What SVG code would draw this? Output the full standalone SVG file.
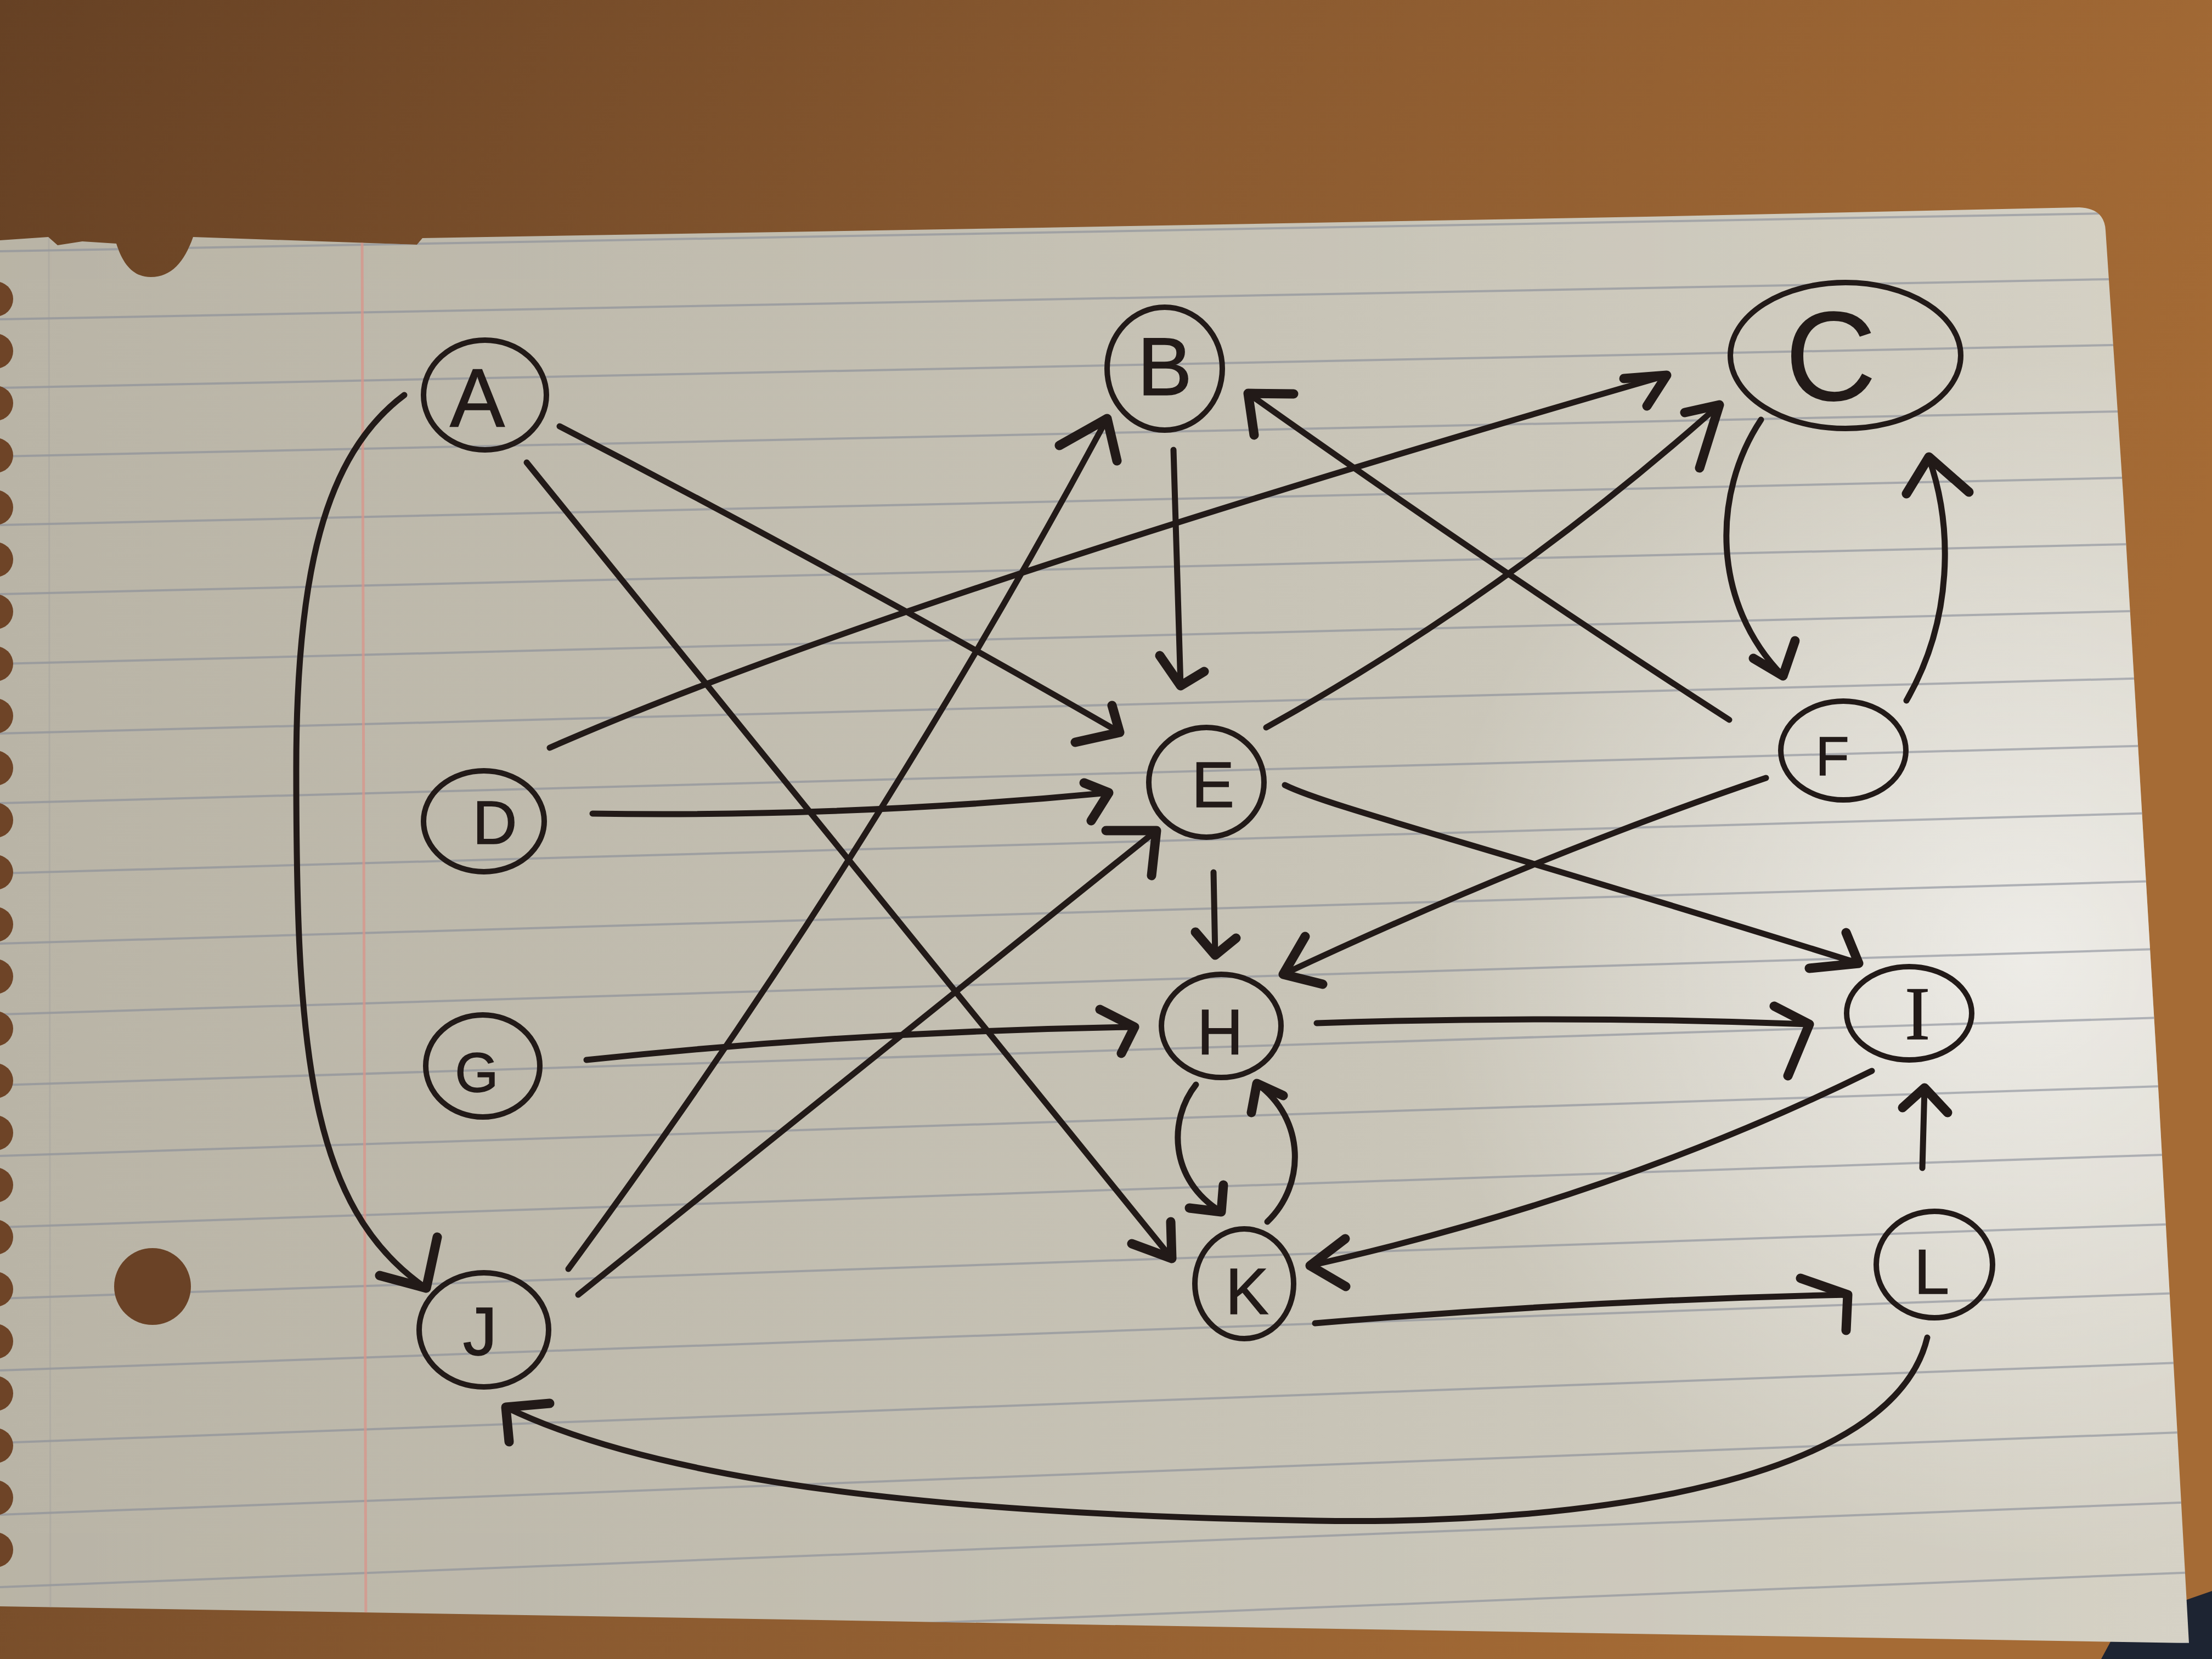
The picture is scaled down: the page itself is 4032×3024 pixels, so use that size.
<svg xmlns="http://www.w3.org/2000/svg" width="4032" height="3024" viewBox="0 0 4032 3024">
<defs>
<style>
.edge{fill:none;stroke:#221a18;stroke-width:11;stroke-linecap:round;stroke-linejoin:round}
.head{fill:none;stroke:#221a18;stroke-width:17;stroke-linecap:round;stroke-linejoin:round}
.ring{fill:none;stroke:#221a18;stroke-width:10}
.lbl{font-family:"Liberation Sans",Arial,sans-serif;fill:#221a18;stroke:#221a18;stroke-width:1.5;text-anchor:middle}
.serif{font-family:"Liberation Serif","Times New Roman",serif}
.rule{stroke:#878c98;stroke-width:4;opacity:0.6}
.scallop{fill:#6e4427}
</style>
<linearGradient id="wood" x1="0" y1="0" x2="1" y2="0.3">
<stop offset="0" stop-color="#664124"/>
<stop offset="0.5" stop-color="#8a5a30"/>
<stop offset="1" stop-color="#a56b35"/>
</linearGradient>
<linearGradient id="paperG" x1="0" y1="0" x2="1" y2="0">
<stop offset="0" stop-color="#b9b4a6"/>
<stop offset="0.6" stop-color="#c8c4b7"/>
<stop offset="1" stop-color="#d6d2c6"/>
</linearGradient>
<radialGradient id="glow" cx="3700" cy="1750" r="1100" gradientUnits="userSpaceOnUse">
<stop offset="0" stop-color="#ffffff" stop-opacity="0.6"/>
<stop offset="1" stop-color="#ffffff" stop-opacity="0"/>
</radialGradient>
<clipPath id="paperClip">
<path id="paperShape" d="M 0,438 L 88,432 L 105,447 L 150,440 L 212,444 C 225,485 245,505 275,505 C 312,505 336,478 352,432 L 760,446 L 770,434 L 1900,415 L 3000,395 L 3790,378 Q 3836,380 3838,420 L 3870,900 L 3935,2000 L 3990,2995 L 0,2928 Z"/>
</clipPath>
</defs>

<g id="background">
<rect x="0" y="0" width="4032" height="3024" fill="url(#wood)"/>
<path d="M3830,3024 L3870,2950 L3960,2925 L4032,2900 L4032,3024 Z" fill="#1d2432"/>
</g>

<g id="paper">
<g clip-path="url(#paperClip)">
<rect x="0" y="0" width="4032" height="3024" fill="url(#paperG)"/>
<rect x="0" y="0" width="4032" height="3024" fill="url(#glow)"/>
<g class="rule">
<line x1="0" y1="458" x2="4000" y2="386"/>
<line x1="0" y1="582" x2="4000" y2="506"/>
<line x1="0" y1="707" x2="4000" y2="626"/>
<line x1="0" y1="832" x2="4000" y2="747"/>
<line x1="0" y1="957" x2="4000" y2="868"/>
<line x1="0" y1="1083" x2="4000" y2="989"/>
<line x1="0" y1="1210" x2="4000" y2="1111"/>
<line x1="0" y1="1337" x2="4000" y2="1234"/>
<line x1="0" y1="1464" x2="4000" y2="1357"/>
<line x1="0" y1="1592" x2="4000" y2="1480"/>
<line x1="0" y1="1720" x2="4000" y2="1604"/>
<line x1="0" y1="1849" x2="4000" y2="1728"/>
<line x1="0" y1="1978" x2="4000" y2="1853"/>
<line x1="0" y1="2107" x2="4000" y2="1978"/>
<line x1="0" y1="2237" x2="4000" y2="2103"/>
<line x1="0" y1="2367" x2="4000" y2="2230"/>
<line x1="0" y1="2498" x2="4000" y2="2356"/>
<line x1="0" y1="2630" x2="4000" y2="2483"/>
<line x1="0" y1="2761" x2="4000" y2="2610"/>
<line x1="0" y1="2893" x2="4000" y2="2738"/>
<line x1="0" y1="3026" x2="4000" y2="2866"/>
<line x1="0" y1="3159" x2="4000" y2="2995"/>
</g>
<line x1="660" y1="420" x2="667" y2="3000" stroke="#d9958a" stroke-width="5" opacity="0.75"/>
<line x1="89" y1="420" x2="92" y2="3000" stroke="#9a9a9a" stroke-width="3" opacity="0.3"/>
</g>
<g class="scallop">
<circle cx="-8" cy="545" r="32"/><circle cx="-8" cy="640" r="32"/><circle cx="-8" cy="735" r="32"/>
<circle cx="-8" cy="830" r="32"/><circle cx="-8" cy="925" r="32"/><circle cx="-8" cy="1020" r="32"/>
<circle cx="-8" cy="1115" r="32"/><circle cx="-8" cy="1210" r="32"/><circle cx="-8" cy="1305" r="32"/>
<circle cx="-8" cy="1400" r="32"/><circle cx="-8" cy="1495" r="32"/><circle cx="-8" cy="1590" r="32"/>
<circle cx="-8" cy="1685" r="32"/><circle cx="-8" cy="1780" r="32"/><circle cx="-8" cy="1875" r="32"/>
<circle cx="-8" cy="1970" r="32"/><circle cx="-8" cy="2065" r="32"/><circle cx="-8" cy="2160" r="32"/>
<circle cx="-8" cy="2255" r="32"/><circle cx="-8" cy="2350" r="32"/><circle cx="-8" cy="2445" r="32"/>
<circle cx="-8" cy="2540" r="32"/><circle cx="-8" cy="2635" r="32"/><circle cx="-8" cy="2730" r="32"/>
<circle cx="-8" cy="2825" r="32"/>
</g>
<circle cx="278" cy="2345" r="70" fill="#6a4226"/>
</g>

<g id="connectors">
<path class="edge" d="M737,720 C590,830 540,1050 540,1400 C540,1900 560,2200 777,2348"/>
<path class="head" d="M692,2325 L777,2348 L797,2255"/>
<path class="edge" d="M1020,777 Q1530,1040 2041,1335"/>
<path class="head" d="M2027,1286 L2041,1335 L1960,1353"/>
<path class="edge" d="M960,843 L2136,2294"/>
<path class="head" d="M2134,2227 L2136,2294 L2063,2267"/>
<path class="edge" d="M1002,1363 Q1600,1100 3038,684"/>
<path class="head" d="M2960,690 L3038,684 L3002,740"/>
<path class="edge" d="M1080,1483 Q1550,1490 2021,1445"/>
<path class="head" d="M1976,1427 L2021,1445 L1989,1496"/>
<path class="edge" d="M1069,1932 Q1560,1880 2068,1872"/>
<path class="head" d="M2005,1840 L2068,1872 L2044,1920"/>
<path class="edge" d="M1036,2313 Q1590,1560 2018,763"/>
<path class="head" d="M1931,812 L2018,763 L2036,840"/>
<path class="edge" d="M1054,2360 L2108,1514"/>
<path class="head" d="M2016,1514 L2108,1514 L2099,1596"/>
<path class="edge" d="M2139,820 L2152,1250"/>
<path class="head" d="M2114,1195 L2152,1250 L2195,1224"/>
<path class="edge" d="M2308,1326 Q2750,1080 3134,738"/>
<path class="head" d="M3071,752 L3134,738 L3098,853"/>
<path class="edge" d="M3152,1312 Q2730,1040 2275,717"/>
<path class="head" d="M2358,718 L2275,717 L2286,793"/>
<path class="edge" d="M3210,765 C3120,900 3120,1100 3250,1232"/>
<path class="head" d="M3196,1200 L3250,1232 L3272,1168"/>
<path class="edge" d="M3475,1277 C3560,1130 3560,960 3516,835"/>
<path class="head" d="M3475,900 L3516,833 L3589,897"/>
<path class="edge" d="M2212,1590 L2215,1741"/>
<path class="head" d="M2179,1699 L2215,1741 L2253,1710"/>
<path class="edge" d="M2342,1431 C2420,1470 2700,1540 3388,1756"/>
<path class="head" d="M3365,1700 L3388,1756 L3298,1765"/>
<path class="edge" d="M3219,1418 Q2800,1560 2339,1776"/>
<path class="head" d="M2379,1707 L2339,1776 L2411,1794"/>
<path class="edge" d="M2400,1865 Q2850,1850 3298,1867"/>
<path class="head" d="M3234,1834 L3298,1867 L3259,1961"/>
<path class="edge" d="M2180,1977 C2130,2040 2130,2150 2226,2209"/>
<path class="head" d="M2230,2160 L2226,2209 L2168,2202"/>
<path class="edge" d="M2310,2227 C2380,2160 2380,2040 2291,1975"/>
<path class="head" d="M2281,2028 L2291,1975 L2339,1997"/>
<path class="edge" d="M3412,1952 Q2950,2180 2388,2307"/>
<path class="head" d="M2452,2258 L2388,2307 L2453,2345"/>
<path class="edge" d="M3504,2129 L3508,1983"/>
<path class="head" d="M3468,2019 L3508,1983 L3550,2028"/>
<path class="edge" d="M2397,2412 Q2900,2370 3368,2360"/>
<path class="head" d="M3282,2330 L3368,2360 L3365,2425"/>
<path class="edge" d="M3513,2438 C3450,2700 2900,2780 2400,2772 C1700,2760 1200,2700 922,2565"/>
<path class="head" d="M1002,2558 L922,2565 L928,2628"/>
</g>

<g id="node-A"><ellipse class="ring" cx="884" cy="720" rx="112" ry="100"/><text class="lbl" x="870" y="777" font-size="150">A</text></g>
<g id="node-B"><ellipse class="ring" cx="2123" cy="672" rx="105" ry="112"/><text class="lbl" x="2123" y="720" font-size="150">B</text></g>
<g id="node-C"><ellipse class="ring" cx="3364" cy="648" rx="210" ry="133"/><text class="lbl" x="3337" y="730" font-size="232" style="stroke-width:0;font-weight:normal">C</text></g>
<g id="node-D"><ellipse class="ring" cx="882" cy="1497" rx="110" ry="92"/><text class="lbl" x="902" y="1538" font-size="112">D</text></g>
<g id="node-E"><ellipse class="ring" cx="2199" cy="1426" rx="105" ry="100"/><text class="lbl" x="2211" y="1471" font-size="117">E</text></g>
<g id="node-F"><ellipse class="ring" cx="3360" cy="1368" rx="114" ry="90"/><text class="lbl" x="3340" y="1413" font-size="100">F</text></g>
<g id="node-G"><ellipse class="ring" cx="880" cy="1943" rx="104" ry="93"/><text class="lbl" x="869" y="1990" font-size="102">G</text></g>
<g id="node-H"><ellipse class="ring" cx="2226" cy="1870" rx="109" ry="94"/><text class="lbl" x="2224" y="1921" font-size="116">H</text></g>
<g id="node-I"><ellipse class="ring" cx="3480" cy="1847" rx="114" ry="85"/><text class="lbl serif" x="3495" y="1894" font-size="137">I</text></g>
<g id="node-J"><ellipse class="ring" cx="882" cy="2424" rx="118" ry="104"/><text class="lbl" x="875" y="2470" font-size="125">J</text></g>
<g id="node-K"><ellipse class="ring" cx="2268" cy="2340" rx="90" ry="100"/><text class="lbl" x="2273" y="2395" font-size="118">K</text></g>
<g id="node-L"><ellipse class="ring" cx="3526" cy="2305" rx="106" ry="97"/><text class="lbl" x="3521" y="2358" font-size="115">L</text></g>
</svg>
